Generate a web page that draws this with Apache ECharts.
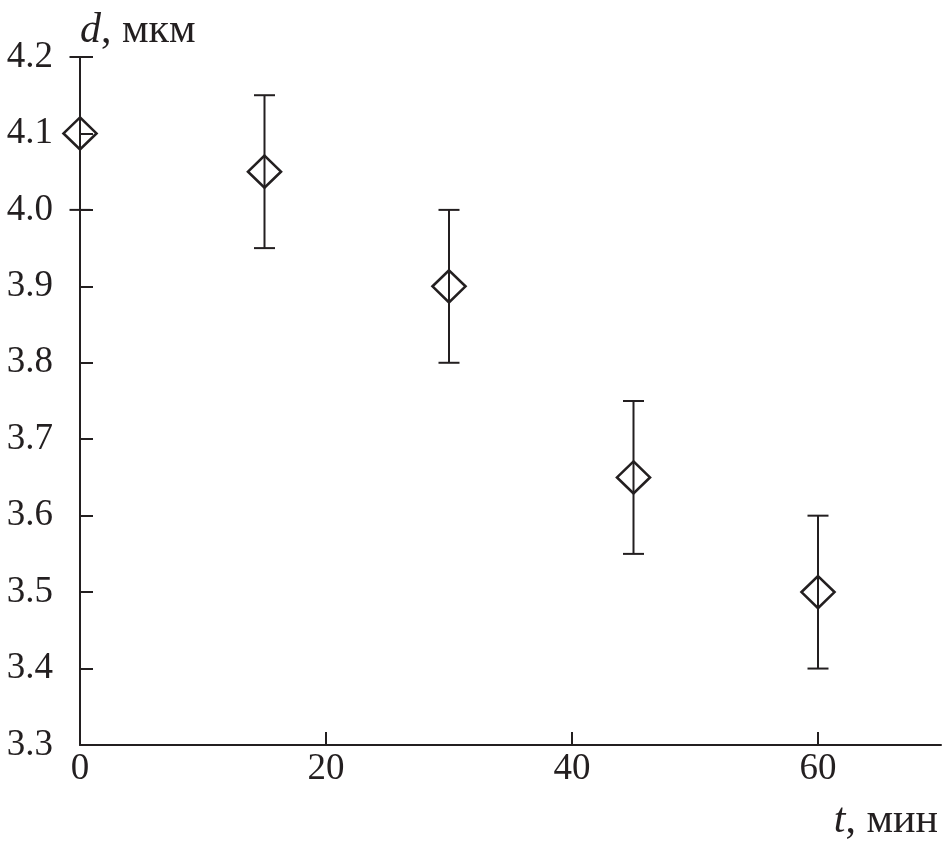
<!DOCTYPE html>
<html>
<head>
<meta charset="utf-8">
<script src="https://cdn.jsdelivr.net/npm/echarts@6/dist/echarts.min.js"></script>
<style>
html,body{margin:0;padding:0;background:#fff;}
#chart{width:951px;height:843px;}
</style>
</head>
<body>
<div id="chart"></div>
<script>
// Data
const timeMin = [0, 15, 30, 45, 60];
const diameter = [4.1, 4.05, 3.9, 3.65, 3.5];
const errLow = [4.0, 3.95, 3.8, 3.55, 3.4];
const errHigh = [4.2, 4.15, 4.0, 3.75, 3.6];
const xTicks = [0, 20, 40, 60];
const yTicks = [3.3, 3.4, 3.5, 3.6, 3.7, 3.8, 3.9, 4.0, 4.1, 4.2];

const ink = '#231f20';
const font = '"Liberation Serif", "Times New Roman", serif';
const fs = 37;
const nfs = 42;

const chart = echarts.init(document.getElementById('chart'), null, {renderer: 'canvas'});

const pointData = timeMin.map((t, i) => [t, diameter[i]]);
const errData = timeMin.map((t, i) => [t, errLow[i], errHigh[i]]);

const option = {
  animation: false,
  backgroundColor: '#fff',
  grid: {left: 80, top: 57, right: 10, bottom: 98, containLabel: false},
  xAxis: {
    type: 'value',
    min: 0, max: 70, interval: 20,
    name: '{i|t}, мин',
    nameLocation: 'end',
    nameGap: 0,
    nameTextStyle: {
      fontFamily: font, fontSize: nfs, color: ink,
      align: 'right', verticalAlign: 'top',
      padding: [55, 3, 0, 0],
      rich: {i: {fontFamily: font, fontSize: nfs, fontStyle: 'italic', color: ink}}
    },
    axisLine: {show: true, onZero: false, lineStyle: {color: ink, width: 2}},
    axisTick: {show: true, inside: true, length: 13, customValues: xTicks, lineStyle: {color: ink, width: 2}},
    axisLabel: {
      customValues: xTicks,
      margin: 6,
      fontFamily: font, fontSize: fs, color: ink
    },
    splitLine: {show: false}
  },
  yAxis: {
    type: 'value',
    min: 3.3, max: 4.2, interval: 0.1,
    name: '{i|d}, мкм',
    nameLocation: 'end',
    nameGap: 5,
    nameTextStyle: {
      fontFamily: font, fontSize: nfs, color: ink,
      align: 'left', verticalAlign: 'bottom',
      rich: {i: {fontFamily: font, fontSize: nfs, fontStyle: 'italic', color: ink}}
    },
    axisLine: {show: true, onZero: false, lineStyle: {color: ink, width: 2}},
    axisTick: {show: true, inside: true, length: 13, customValues: yTicks, lineStyle: {color: ink, width: 2}},
    axisLabel: {
      customValues: yTicks,
      margin: 27,
      fontFamily: font, fontSize: fs, color: ink,
      formatter: v => Number(v).toFixed(1)
    },
    splitLine: {show: false}
  },
  series: [
    {
      type: 'custom',
      name: 'error',
      data: errData,
      encode: {x: 0, y: [1, 2]},
      z: 2,
      renderItem: function (params, api) {
        const x = api.value(0);
        const lo = api.coord([x, api.value(1)]);
        const hi = api.coord([x, api.value(2)]);
        const hw = 10.5;
        const style = {stroke: ink, lineWidth: 2, fill: null};
        return {
          type: 'group',
          children: [
            {type: 'line', shape: {x1: lo[0], y1: lo[1], x2: hi[0], y2: hi[1]}, style: style},
            {type: 'line', shape: {x1: hi[0] - hw, y1: hi[1], x2: hi[0] + hw, y2: hi[1]}, style: style},
            {type: 'line', shape: {x1: lo[0] - hw, y1: lo[1], x2: lo[0] + hw, y2: lo[1]}, style: style}
          ]
        };
      }
    },
    {
      type: 'scatter',
      name: 'd',
      data: pointData,
      symbol: 'diamond',
      symbolSize: [33, 32],
      z: 3,
      itemStyle: {color: 'rgba(255,255,255,0)', borderColor: ink, borderWidth: 2.6, opacity: 1}
    }
  ]
};

chart.setOption(option);
</script>
</body>
</html>
